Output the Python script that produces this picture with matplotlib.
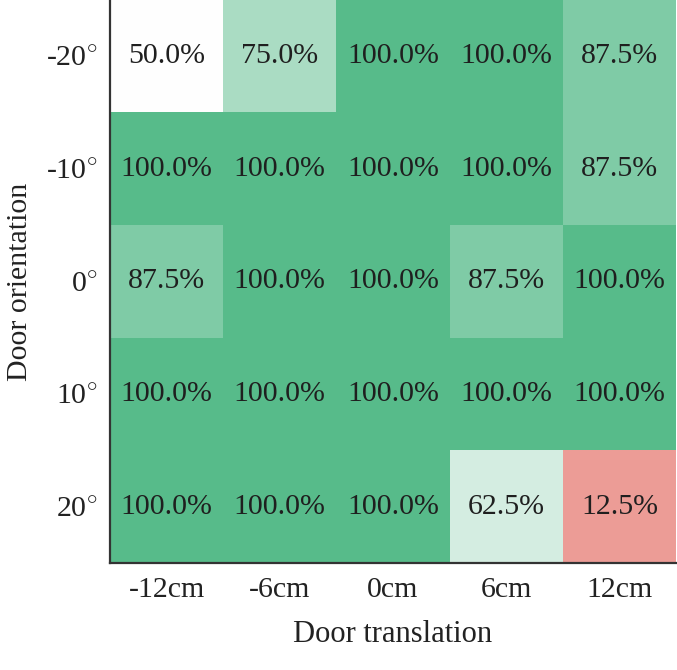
import matplotlib

matplotlib.use("Agg")
import matplotlib.pyplot as plt
import numpy as np
from matplotlib.colors import LinearSegmentedColormap

# Success rate (%) per door orientation (rows) x door translation (cols)
orientations = ["-20$^{\\circ}$", "-10$^{\\circ}$", "0$^{\\circ}$", "10$^{\\circ}$", "20$^{\\circ}$"]
translations = ["-12cm", "-6cm", "0cm", "6cm", "12cm"]
success = [
    [50.0, 75.0, 100.0, 100.0, 87.5],
    [100.0, 100.0, 100.0, 100.0, 87.5],
    [87.5, 100.0, 100.0, 87.5, 100.0],
    [100.0, 100.0, 100.0, 100.0, 100.0],
    [100.0, 100.0, 100.0, 62.5, 12.5],
]

plt.rcParams["font.family"] = ["Liberation Serif", "DejaVu Serif"]
plt.rcParams["mathtext.fontset"] = "custom"
plt.rcParams["mathtext.rm"] = "Liberation Serif"

cmap = LinearSegmentedColormap.from_list("rwg", ["#e67c73", "#ffffff", "#57bb8a"])

fig = plt.figure(figsize=(6.77, 6.70), dpi=100)
ax = fig.add_axes([110 / 677, 107 / 670, 566 / 677, 563 / 670])

vals = np.array(success)
ax.imshow(vals, cmap=cmap, vmin=0, vmax=100, aspect="auto", interpolation="nearest")

for i in range(vals.shape[0]):
    for j in range(vals.shape[1]):
        ax.text(j, i, f"{vals[i, j]:.1f}%", ha="center", va="center",
                fontsize=21.5, color="#1f1f1f")

ax.set_xticks(range(len(translations)))
ax.set_xticklabels(translations, fontsize=21.5, color="#222222")
ax.set_yticks(range(len(orientations)))
ax.set_yticklabels(orientations, fontsize=21.5, color="#222222")
ax.tick_params(axis="x", length=0, pad=10)
ax.tick_params(axis="y", length=0, pad=9)
ax.set_xlabel("Door translation", fontsize=22, color="#222222", labelpad=12)
ax.set_ylabel("Door orientation", fontsize=21.5, color="#222222")
# keep the rotated label inside the canvas, as in the source figure
ax.yaxis.set_label_coords(-0.136, 0.5)

for side in ("top", "right"):
    ax.spines[side].set_visible(False)
for side in ("left", "bottom"):
    ax.spines[side].set_linewidth(1.6)
    ax.spines[side].set_color("#333333")

fig.savefig("out.png", dpi=100)
